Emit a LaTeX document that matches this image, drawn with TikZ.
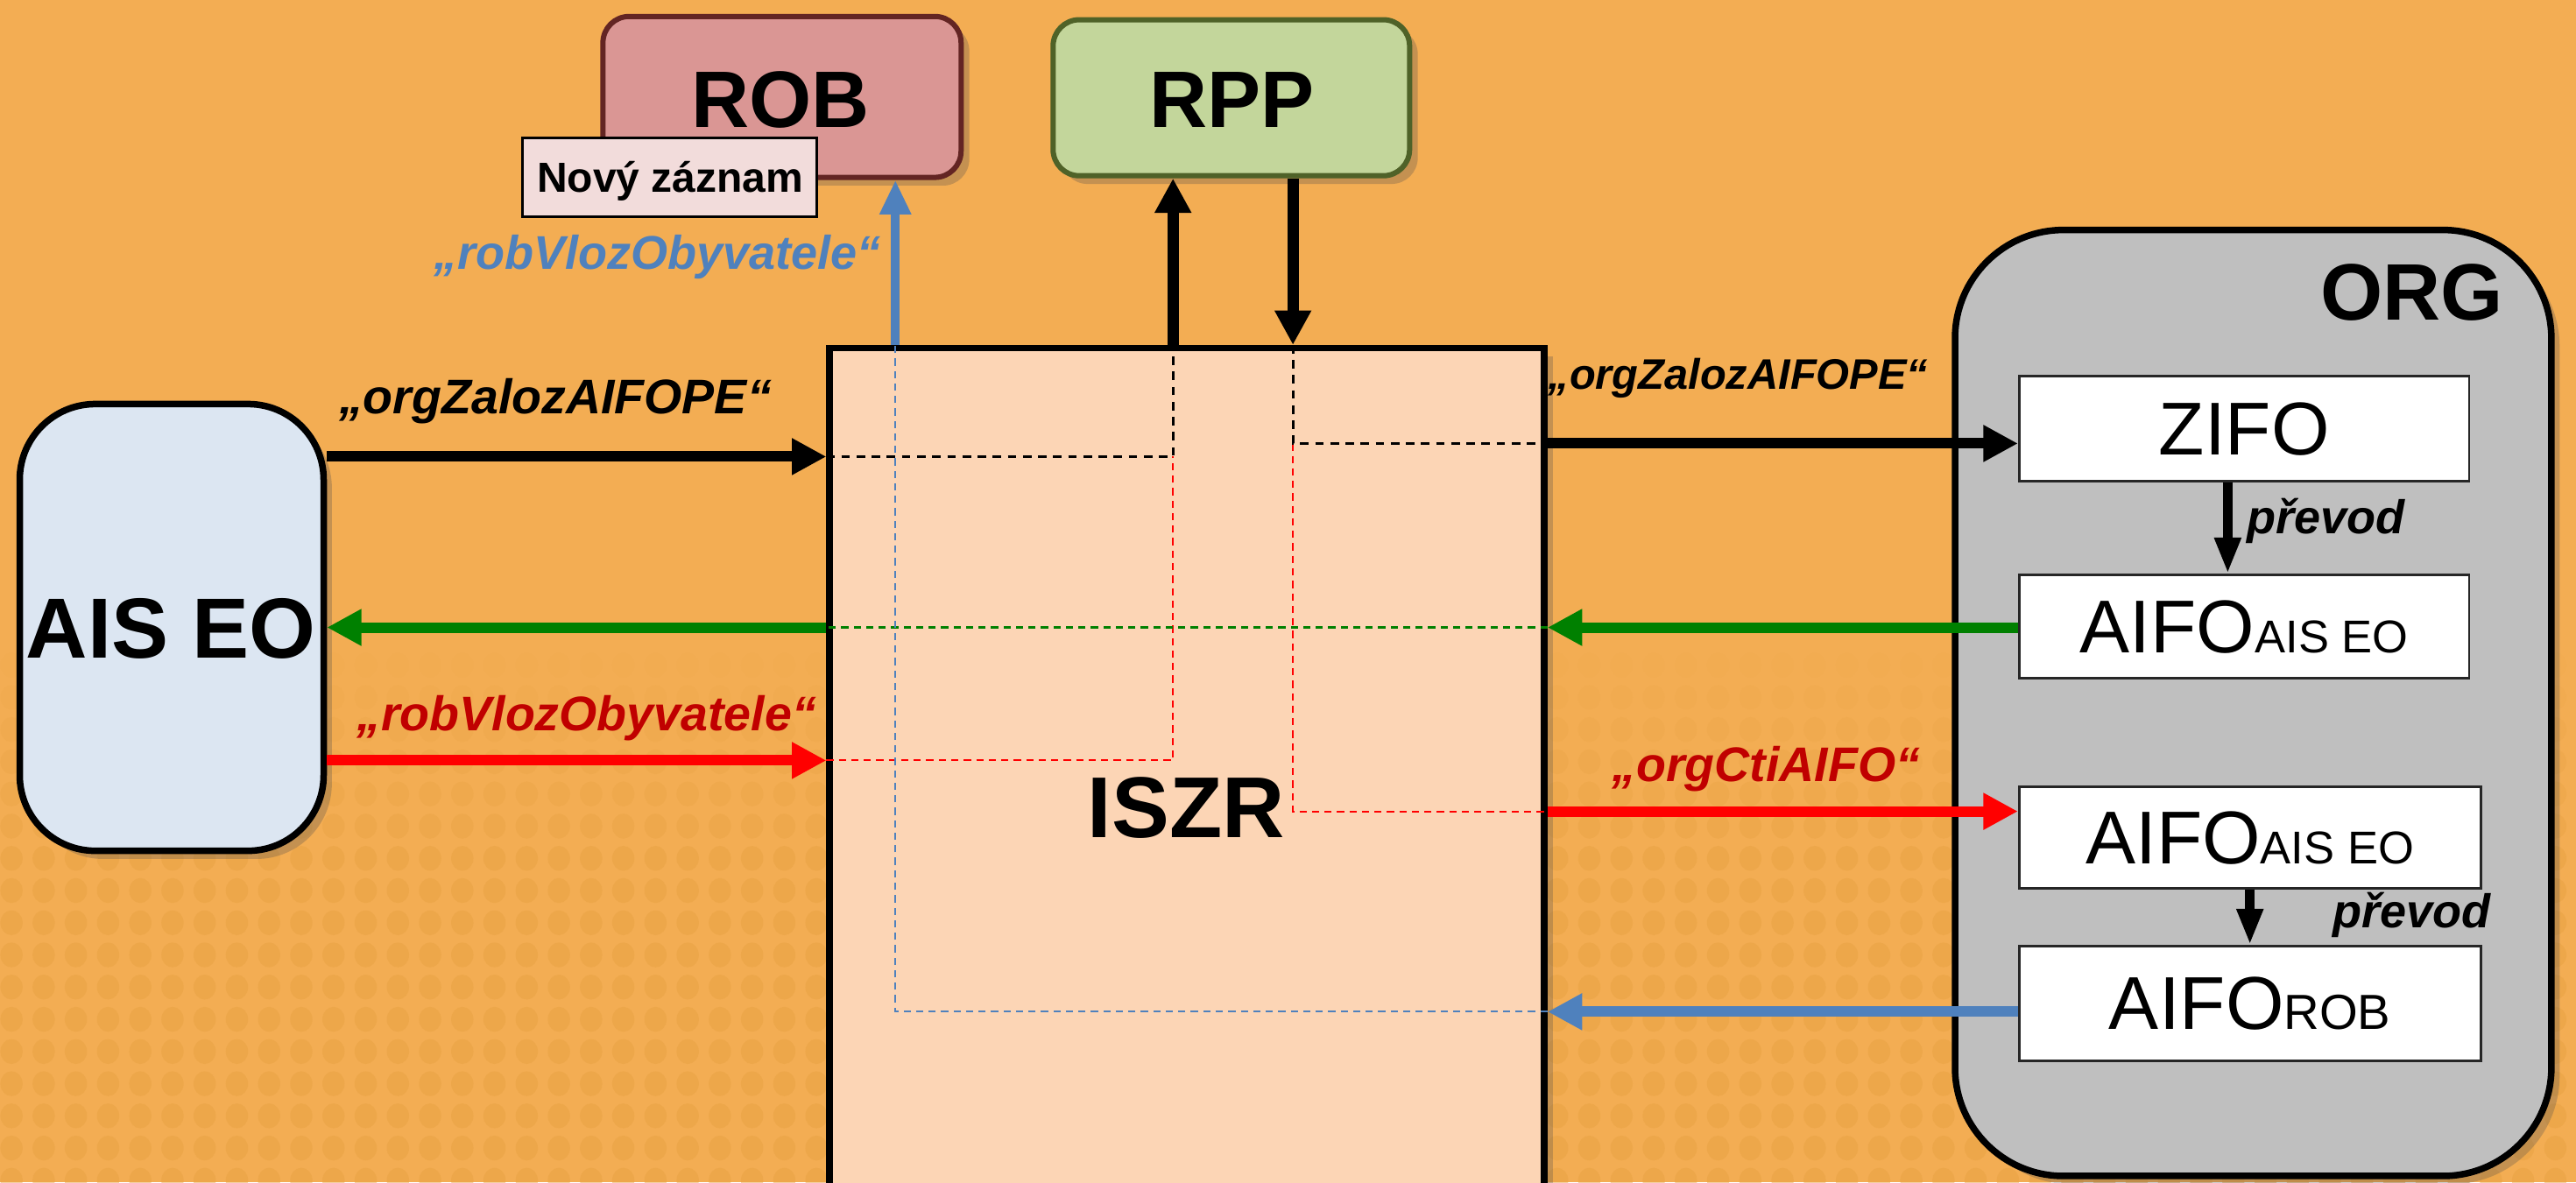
\documentclass[tikz,border=0pt]{standalone}
\usepackage{fontspec}
\setmainfont{Liberation Sans}
\usetikzlibrary{arrows.meta,fit,shadows,calc}
\definecolor{bgor}{HTML}{F3AD53}
\definecolor{dotor}{HTML}{E8A243}
\definecolor{iszrfill}{HTML}{FCD5B5}
\definecolor{robfill}{HTML}{DA9694}
\definecolor{robdraw}{HTML}{632523}
\definecolor{rppfill}{HTML}{C3D69B}
\definecolor{rppdraw}{HTML}{4F6228}
\definecolor{aisfill}{HTML}{DCE6F2}
\definecolor{orgfill}{HTML}{BFBFBF}
\definecolor{novyfill}{HTML}{F2DCDB}
\definecolor{grn}{HTML}{008000}
\definecolor{rd}{HTML}{FF0000}
\definecolor{drd}{HTML}{C00000}
\definecolor{blu}{HTML}{4F81BD}
\begin{document}
\begin{tikzpicture}[x=0.5pt,y=-0.5pt,
  shd/.style={drop shadow={shadow xshift=2.5pt,shadow yshift=-2.5pt,opacity=0.28,fill=black!70}},
  bigbox/.style={draw=black,line width=2pt,inner sep=0pt,shd},
  topbox/.style={line width=1.6pt,rounded corners=8pt,inner sep=0pt,shd},
  whitebox/.style={draw=black!85,fill=white,line width=0.7pt,inner sep=0pt},
  ttl/.style={font=\fontsize{24.4}{28}\selectfont\bfseries,inner sep=0pt},
  reg/.style={font=\fontsize{22.8}{26}\selectfont,inner sep=0pt},
  lbl/.style={font=\fontsize{14.8}{17}\selectfont\bfseries\itshape,anchor=base,inner sep=0pt},
  hx/.style={line width=3.2pt,-{Triangle[length=10.5pt,width=10.5pt]}},
  vx/.style={line width=3.4pt,-{Triangle[length=10.5pt,width=10.5pt]}},
  px/.style={line width=2.8pt,-{Triangle[length=11pt,width=7.5pt]}},
  dsh/.style={line width=0.75pt,dash pattern=on 2.6pt off 2pt},
  dshthin/.style={line width=0.55pt,dash pattern=on 2.2pt off 1.6pt}
]
\fill[bgor] (0,0) rectangle (1568,720);
\useasboundingbox (0,0) rectangle (1568,720);
\begin{scope}
\clip (0,0) rectangle (1568,720);
% background dot pattern
\foreach \j in {0,...,16}{
  \pgfmathsetmacro{\op}{min(0.5,(\j+1)/14)}
  \foreach \i in {0,...,80}{
    \fill[dotor,opacity=\op] (7+\i*19.6,405+\j*19.6) ellipse (3.4pt and 3.8pt);
  }
}

% ---- boxes ----
\node[bigbox,fill=iszrfill,fit={(505,212)(940,790)}] (iszr) {};
\node[bigbox,fill=orgfill,rounded corners=33pt,fit={(1190,140)(1553,716)}] (org) {};
\node[bigbox,fill=aisfill,rounded corners=23pt,fit={(12,246)(197,518)}] (aiseo) {};
\node[topbox,draw=robdraw,fill=robfill,fit={(367,10)(585,108)}] (rob) {};
\node[topbox,draw=rppdraw,fill=rppfill,fit={(641,12)(858,107)}] (rpp) {};
\node[draw=black,fill=novyfill,line width=0.7pt,inner sep=0pt,fit={(318,84)(497,132)}] (novy) {};

\node[ttl,font=\fontsize{26}{30}\selectfont\bfseries] (aiseot) at (104,383) {AIS EO};
\node[ttl] (robt) at (475,61) {ROB};
\node[ttl] (rppt) at (750,61) {RPP};
\node[font=\fontsize{12.8}{15}\selectfont\bfseries,inner sep=0pt,anchor=base] (novyt) at (408,117) {Nový záznam};
\node[ttl,font=\fontsize{26.3}{30}\selectfont\bfseries] (iszrt) at (722,492) {ISZR};
\node[ttl] (orgt) at (1468,178) {ORG};

\node[whitebox,fit={(1229,229)(1503,293)}] (zifo) {};
\node[whitebox,fit={(1229,350)(1503,413)}] (aifo1) {};
\node[whitebox,fit={(1229,479)(1510,541)}] (aifo2) {};
\node[whitebox,fit={(1229,576)(1510,646)}] (aiforob) {};
\node[reg] (zifot) at (zifo.center) {ZIFO};
\node[reg] (aifo1t) at (aifo1.center) {AIFO{\fontsize{14}{16}\selectfont AIS EO}};
\node[reg] (aifo2t) at (aifo2.center) {AIFO{\fontsize{14}{16}\selectfont AIS EO}};
\node[reg] (aiforobt) at (aiforob.center) {AIFO{\fontsize{15}{16}\selectfont ROB}};

% ---- waypoints ----
\coordinate (bl) at (714,278);
\coordinate (br) at (787,270);
\coordinate (gy) at (0,382);
\coordinate (rl) at (714,463);
\coordinate (rr) at (787,494);
\coordinate (bb) at (545,616);
\coordinate (p1) at (1356,0);

% ---- dashed lines inside ISZR ----
\draw[dshthin,rd] (iszr.west |- rl) -- (rl) -- (bl);
\draw[dshthin,rd] (br) -- (rr) -- (iszr.east |- rr);
\draw[dshthin,grn] (iszr.east |- gy) -- (iszr.west |- gy);
\draw[dshthin,blu] (iszr.east |- bb) -- (bb) -- (bb |- iszr.north);
\draw[dsh,black] (iszr.west |- bl) -- (bl) -- (bl |- iszr.north);
\draw[dsh,black] (br |- iszr.north) -- (br) -- (iszr.east |- br);

% ---- solid connectors ----
\draw[hx,black] (aiseo.east |- bl) -- (iszr.west |- bl);
\draw[vx,black] (bl |- iszr.north) -- (bl |- rpp.south);
\draw[vx,black] (br |- rpp.south) -- (br |- iszr.north);
\draw[hx,black] (iszr.east |- br) -- (zifo.west |- br);
\draw[hx,grn] (aifo1.west |- gy) -- (iszr.east |- gy);
\draw[hx,grn] (iszr.west |- gy) -- (aiseo.east |- gy);
\draw[hx,rd] (aiseo.east |- rl) -- (iszr.west |- rl);
\draw[hx,rd] (iszr.east |- rr) -- (aifo2.west |- rr);
\draw[hx,blu] (aiforob.west |- bb) -- (iszr.east |- bb);
\draw[line width=2.8pt,blu,-{Triangle[length=10.5pt,width=9pt]}] (bb |- iszr.north) -- (bb |- rob.south);
\draw[px,black] (p1 |- zifo.south) -- (p1 |- aifo1.north);
\draw[px,black] (aifo2.south) -- (aiforob.north);

% ---- labels ----
\node[lbl,black] (l1) at (338,252) {„orgZalozAIFOPE“};
\node[lbl,black,font=\fontsize{13}{15}\selectfont\bfseries\itshape] (l2) at (1058,237) {„orgZalozAIFOPE“};
\node[lbl,drd] (l3) at (357,445) {„robVlozObyvatele“};
\node[lbl,blu,font=\fontsize{14.4}{17}\selectfont\bfseries\itshape] (l4) at (400,164) {„robVlozObyvatele“};
\node[lbl,drd] (l5) at (1075,476) {„orgCtiAIFO“};
\node[lbl,black,font=\fontsize{14.4}{17}\selectfont\bfseries\itshape] (l6) at (1416,325) {převod};
\node[lbl,black,font=\fontsize{14.4}{17}\selectfont\bfseries\itshape] (l7) at (1468,565) {převod};
\end{scope}
\end{tikzpicture}
\end{document}
